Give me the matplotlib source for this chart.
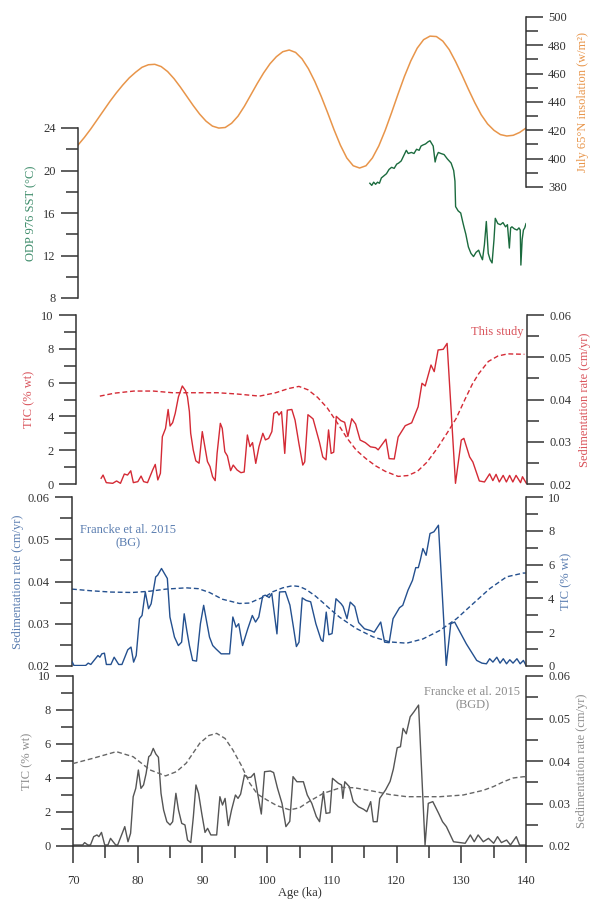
import numpy as np
import matplotlib
matplotlib.use('Agg')
import matplotlib.pyplot as plt
from matplotlib.ticker import MultipleLocator, FormatStrFormatter

plt.rcParams['font.family'] = ['Liberation Serif', 'DejaVu Serif']

# July 65N insolation (w/m2)
ins_age = np.arange(70, 141, 1)
ins_val = [409.6, 415, 421, 427.5, 434, 440.5, 446.5, 452, 457, 461, 464.5, 466.3, 466.6, 465,
           461.5, 456.5, 450.5, 444, 437.5, 431.5, 426.5, 423, 421.6, 422, 425, 430, 437, 445,
           453, 460.5, 467, 472, 475.5, 476.7, 475, 470.5, 463.5, 454.5, 444, 432.5, 420.5,
           409.5, 400.5, 395, 393.4, 395, 400.5, 409, 420, 432.5, 445.5, 458, 469, 478, 484,
           486.5, 486.2, 483, 477, 468.5, 459, 449, 439.5, 431, 424.5, 420, 417, 416, 416.5,
           418.5, 421.6]

# ODP 976 SST (degC)
sst_age = [115.6, 115.9, 116.2, 116.5, 116.8, 117.1, 117.4, 117.8, 118.2, 118.6, 119.0, 119.4,
           119.8, 120.1, 120.5, 120.9, 121.3, 121.6, 122.1, 122.5, 122.9, 123.3, 123.6, 123.9,
           124.3, 124.7, 125.0, 125.2, 125.5, 125.8, 126.0, 126.3, 126.7, 127.2, 127.7, 128.3,
           128.7, 128.9, 129.0, 129.4, 129.8, 130.1, 130.3, 130.6, 131.0, 131.4, 131.8, 132.2,
           132.6, 132.9, 133.2, 133.5, 133.8, 134.1, 134.4, 134.7, 135.0, 135.2, 135.6, 136.0,
           136.4, 136.8, 137.1, 137.4, 137.6, 137.8, 138.2, 138.6, 138.9, 139.1, 139.2, 139.4,
           139.6, 139.8, 140.0]
sst_val = [18.8, 18.6, 18.9, 18.7, 18.9, 18.8, 19.3, 19.5, 19.7, 20.1, 20.3, 20.2, 20.6, 20.7,
           20.9, 21.4, 21.9, 21.6, 21.7, 21.6, 22.0, 21.9, 22.3, 22.4, 22.5, 22.7, 22.8, 22.6,
           22.3, 20.8, 21.3, 21.7, 21.6, 21.5, 21.1, 20.7, 20.0, 19.0, 16.6, 16.2, 16.0, 15.2,
           14.7, 14.0, 12.8, 12.2, 11.9, 12.3, 12.5, 12.0, 11.6, 13.0, 15.2, 12.2, 11.6, 11.3,
           13.5, 15.5, 15.0, 14.9, 15.1, 14.7, 14.9, 12.7, 14.6, 14.7, 14.5, 14.4, 14.6, 14.4,
           11.1, 13.5, 14.4, 14.6, 15.0]

# TIC, this study
red_age = [73.9, 74.2, 74.7, 75.7, 76.3, 76.9, 77.5, 78.0, 78.5, 78.9, 79.6, 80.1, 80.5, 81.1,
           81.9, 82.3, 82.7, 83.1, 83.4, 83.9, 84.3, 84.6, 85.0, 85.4, 85.9, 86.5, 87.0, 87.3,
           87.6, 87.8, 88.2, 88.6, 89.1, 89.6, 90.0, 90.4, 90.8, 91.2, 91.6, 91.9, 92.4, 92.7,
           93.1, 93.5, 94.0, 94.4, 95.0, 95.6, 96.1, 96.6, 97.0, 97.4, 97.9, 98.4, 99.0, 99.4,
           99.9, 100.4, 100.7, 101.2, 101.5, 101.9, 102.4, 102.8, 103.5, 104.0, 104.6, 105.2,
           105.5, 106.0, 106.4, 106.8, 107.8, 108.3, 108.8, 109.2, 109.6, 110.0, 110.4, 111.1,
           111.7, 112.2, 112.8, 113.4, 114.1, 114.9, 115.7, 116.5, 116.9, 118.1, 118.6, 119.4,
           120.0, 121.1, 122.1, 123.1, 123.7, 124.2, 125.1, 125.6, 126.2, 127.0, 127.6, 128.9,
           129.8, 130.2, 131.1, 131.6, 132.6, 133.4, 134.2, 134.7, 135.2, 135.7, 136.3, 136.8,
           137.3, 137.8, 138.3, 139.0, 139.3, 139.9]
red_tic = [0.34, 0.53, 0.08, 0.04, 0.18, 0.04, 0.59, 0.53, 0.78, 0.08, 0.14, 0.47, 0.14, 0.08,
           0.83, 1.16, 0.24, 0.63, 2.80, 3.29, 4.41, 3.43, 3.63, 4.18, 5.16, 5.80, 5.52, 5.16,
           4.28, 3.00, 2.01, 1.37, 1.23, 3.10, 2.21, 1.33, 1.03, 0.43, 0.20, 1.81, 3.59, 3.29,
           1.91, 1.66, 0.79, 1.12, 0.83, 0.67, 0.71, 2.90, 2.21, 2.45, 1.22, 2.21, 3.00, 2.61,
           2.70, 3.10, 4.18, 4.28, 4.08, 4.28, 1.81, 4.37, 4.41, 3.78, 2.39, 1.12, 1.31, 4.10,
           3.98, 3.85, 2.45, 1.60, 1.43, 3.20, 1.81, 1.88, 4.00, 3.75, 3.65, 2.82, 3.86, 3.55,
           2.60, 2.45, 2.20, 2.15, 2.02, 2.65, 1.50, 1.48, 2.78, 3.45, 3.62, 4.57, 5.96, 5.80,
           7.04, 6.65, 7.93, 7.97, 8.32, 0.04, 2.60, 2.70, 1.60, 1.30, 0.18, 0.12, 0.60, 0.20,
           0.57, 0.12, 0.51, 0.12, 0.51, 0.12, 0.51, 0.08, 0.43, 0.04]
red_sed_age = [73.7, 76, 79, 82, 85, 88, 92, 95, 98.5, 101, 103, 104.6, 106, 107.5, 109, 110.5,
               112, 113.5, 115, 116.5, 118, 120, 121.5, 123, 124.5, 126, 127.7, 129, 130.3,
               131.5, 132.5, 134, 135.5, 137, 139.6]
red_sed = [0.0408, 0.0415, 0.0420, 0.0420, 0.0416, 0.0416, 0.0416, 0.0413, 0.0408, 0.0416,
           0.0426, 0.0431, 0.0423, 0.0405, 0.0380, 0.0346, 0.0310, 0.0280, 0.0260, 0.0243,
           0.0230, 0.0218, 0.0220, 0.0230, 0.0252, 0.0283, 0.0323, 0.0355, 0.0398, 0.0436,
           0.0461, 0.0490, 0.0503, 0.0508, 0.0507]

# TIC, Francke et al. 2015 (BG)
blue_age = [70.05, 70.3, 72.1, 72.5, 72.9, 74.0, 74.3, 74.6, 75.0, 75.3, 76.0, 76.5, 77.2, 77.7,
            78.6, 79.1, 79.5, 79.9, 80.4, 80.8, 81.3, 81.8, 82.2, 82.9, 83.2, 83.8, 84.5, 84.7,
            85.1, 85.8, 86.4, 86.9, 87.3, 87.7, 88.1, 88.6, 89.2, 89.8, 90.3, 90.8, 91.2, 91.7,
            92.2, 93.0, 94.3, 94.8, 95.3, 95.7, 96.3, 97.1, 97.8, 98.3, 98.8, 99.4, 99.8, 100.4,
            100.8, 101.6, 102.0, 102.9, 103.6, 104.1, 104.6, 105.0, 105.5, 106.1, 106.8, 107.6,
            108.4, 108.7, 109.2, 109.6, 110.1, 110.7, 111.5, 111.8, 112.4, 112.9, 113.6, 114.2,
            115.1, 116.0, 116.6, 117.6, 118.2, 118.9, 119.5, 120.5, 121.0, 121.8, 122.5, 123.0,
            123.4, 123.7, 124.1, 124.6, 125.2, 125.8, 126.5, 127.7, 128.4, 129.0, 130.1, 130.8,
            131.6, 132.4, 133.2, 133.9, 134.4, 134.9, 135.5, 136.0, 136.5, 137.0, 137.5, 138.0,
            138.6, 139.1, 139.6, 140.0]
blue_tic = [0.23, 0.03, 0.03, 0.17, 0.09, 0.62, 0.52, 0.72, 0.76, 0.09, 0.09, 0.52, 0.09, 0.09,
            0.96, 1.12, 0.23, 0.62, 2.80, 2.99, 4.38, 3.39, 3.68, 5.27, 5.37, 5.77, 5.31, 5.18,
            2.90, 1.71, 1.21, 1.41, 3.09, 2.10, 1.21, 0.33, 0.29, 2.50, 3.59, 2.54, 1.71, 1.21,
            1.01, 0.72, 0.72, 2.90, 2.30, 2.50, 1.21, 2.20, 2.99, 2.60, 2.90, 4.13, 4.19, 4.05,
            4.29, 1.90, 4.38, 4.40, 3.60, 2.40, 1.15, 1.41, 4.03, 3.88, 3.80, 2.50, 1.55, 1.45,
            3.19, 1.85, 1.92, 3.98, 3.68, 3.52, 2.80, 3.78, 3.52, 2.57, 2.20, 2.10, 2.00, 2.60,
            1.41, 1.38, 2.80, 3.45, 3.59, 4.48, 5.07, 5.82, 5.82, 6.26, 6.95, 6.55, 7.84, 7.94,
            8.33, 0.03, 2.50, 2.60, 1.81, 1.31, 0.82, 0.33, 0.17, 0.13, 0.43, 0.23, 0.52, 0.17,
            0.43, 0.13, 0.37, 0.17, 0.43, 0.13, 0.33, 0.03]
blue_sed_age = [70, 73, 76, 79.3, 82, 84.5, 87.6, 89.5, 91.2, 93.2, 95.8, 97.4, 98.4, 100, 101,
                102.5, 104, 105.1, 106.1, 107.5, 108.7, 110, 111.3, 113.8, 116.4, 119, 121.6,
                124.1, 126.7, 129.3, 131.8, 134.4, 137, 139.6, 140]
blue_sed = [0.0382, 0.0378, 0.0375, 0.0374, 0.0377, 0.0382, 0.0385, 0.0383, 0.0374, 0.0358,
            0.0348, 0.0349, 0.0356, 0.0366, 0.0376, 0.0385, 0.0390, 0.0388, 0.0381, 0.0366,
            0.0350, 0.0332, 0.0315, 0.0289, 0.0269, 0.0257, 0.0254, 0.0264, 0.0284, 0.0312,
            0.0347, 0.0383, 0.0411, 0.0420, 0.0420]

# TIC, Francke et al. 2015 (BGD)
gray_age = [70.0, 71.5, 71.8, 72.3, 72.7, 73.2, 73.7, 74.0, 74.4, 74.9, 75.4, 75.8, 76.2, 76.6,
            76.9, 77.7, 78.0, 78.5, 78.9, 79.3, 79.7, 80.1, 80.5, 80.9, 81.3, 81.7, 82.0, 82.4,
            82.8, 83.2, 83.6, 84.0, 84.5, 85.0, 85.4, 85.9, 86.3, 86.8, 87.3, 87.7, 88.2, 88.6,
            89.0, 89.4, 89.9, 90.4, 90.8, 91.3, 92.2, 92.7, 93.1, 93.5, 94.0, 94.5, 95.1, 95.5,
            95.9, 96.5, 97.0, 97.5, 98.0, 98.5, 99.1, 99.6, 100.5, 101.0, 101.6, 102.3, 102.9,
            103.5, 104.0, 104.6, 105.6, 106.2, 106.9, 107.6, 108.1, 108.7, 109.1, 109.7, 110.1,
            111.0, 111.5, 111.7, 112.0, 112.7, 113.3, 114.1, 114.9, 115.4, 116.0, 116.4, 117.0,
            117.4, 118.3, 119.0, 119.5, 120.1, 120.6, 121.0, 121.5, 122.1, 122.7, 123.4, 124.4,
            124.9, 125.6, 126.5, 127.1, 127.7, 128.8, 129.8, 130.6, 131.4, 132.0, 132.6, 133.4,
            134.2, 135.0, 135.6, 136.2, 137.0, 137.6, 138.5, 139.0, 140.0]
gray_tic = [0.06, 0.06, 0.20, 0.06, 0.06, 0.55, 0.65, 0.55, 0.80, 0.06, 0.06, 0.45, 0.25, 0.06,
            0.06, 0.84, 1.14, 0.25, 0.75, 2.90, 3.39, 4.47, 3.39, 3.59, 4.27, 5.25, 5.35, 5.74,
            5.41, 5.22, 3.10, 2.12, 1.43, 1.24, 1.43, 3.10, 2.12, 1.33, 1.24, 0.35, 0.20, 1.73,
            3.59, 3.10, 1.90, 0.80, 1.04, 0.65, 0.65, 2.90, 2.41, 2.80, 1.20, 2.12, 3.00, 2.80,
            3.05, 4.18, 4.02, 4.05, 4.27, 3.15, 1.88, 4.37, 4.41, 4.32, 3.40, 2.50, 1.14, 1.45,
            4.08, 3.78, 3.78, 3.00, 2.51, 1.73, 1.43, 3.20, 1.92, 1.96, 3.98, 3.69, 3.59, 2.80,
            3.78, 3.49, 2.61, 2.31, 2.16, 2.02, 2.61, 1.43, 1.43, 2.80, 3.30, 3.80, 4.52, 5.78,
            5.84, 6.92, 6.60, 7.60, 7.90, 8.29, 0.06, 2.51, 2.61, 1.92, 1.43, 1.14, 0.25, 0.20,
            0.16, 0.65, 0.25, 0.65, 0.25, 0.45, 0.16, 0.55, 0.20, 0.35, 0.06, 0.55, 0.06, 0.06]
gray_sed_age = [70, 73, 76.7, 79.3, 81.9, 84.3, 86, 87.5, 89.6, 91, 92.2, 93.5, 94.7, 96, 97.3,
                98.5, 100, 101.5, 103.5, 105, 106.5, 108.7, 111.5, 113.5, 116.4, 119, 121.6,
                124, 126.7, 130.3, 133.4, 135, 136.5, 138, 139.6, 140]
gray_sed = [0.0394, 0.0406, 0.0422, 0.0410, 0.0379, 0.0365, 0.0375, 0.0395, 0.0442, 0.0460,
            0.0465, 0.0453, 0.0426, 0.0390, 0.0348, 0.0322, 0.0308, 0.0295, 0.0285, 0.0290,
            0.0305, 0.0324, 0.0338, 0.0337, 0.0329, 0.0321, 0.0316, 0.0316, 0.0316, 0.0320,
            0.0331, 0.0340, 0.0351, 0.0360, 0.0363, 0.0363]

c_orange = '#E8954A'
c_green = '#1B6B3E'
c_green_lab = '#3D8C6A'
c_red = '#D42A35'
c_red_lab = '#D9535B'
c_blue = '#24508F'
c_blue_lab = '#5A7DB0'
c_gray = '#555555'
c_gray_lab = '#8C8C8C'
c_axis = '#333333'
dash = (0, (3.5, 2))

W, H = 592, 902
fig = plt.figure(figsize=(W / 100, H / 100), dpi=100)


def box(l, r, t, b):
    return [l / W, 1 - b / H, (r - l) / W, (b - t) / H]


def style(ax, side, lo, hi, major, minor, fmt):
    for s in ['top', 'bottom', 'left', 'right']:
        ax.spines[s].set_visible(s == side)
    ax.spines[side].set_color(c_axis)
    ax.spines[side].set_linewidth(1.1)
    ax.set_facecolor('none')
    ax.set_xlim(70, 140)
    ax.set_ylim(lo, hi)
    if side == 'right':
        ax.yaxis.tick_right()
        ax.yaxis.set_label_position('right')
    else:
        ax.yaxis.tick_left()
    ax.yaxis.set_major_locator(MultipleLocator(major))
    ax.yaxis.set_minor_locator(MultipleLocator(minor))
    ax.yaxis.set_major_formatter(FormatStrFormatter(fmt))
    ax.tick_params(axis='y', which='major', direction='out', length=12, width=1.1,
                   color=c_axis, labelcolor=c_axis, labelsize=9, pad=4)
    ax.tick_params(axis='y', which='minor', direction='out', length=8.5, width=1.1,
                   color=c_axis)
    ax.tick_params(axis='x', which='both', bottom=False, top=False, labelbottom=False)


# top panel: insolation + SST
ax_ins = fig.add_axes(box(78, 526, 17, 187))
ax_sst = fig.add_axes(box(78, 526, 128, 298))
style(ax_sst, 'left', 8, 24, 4, 2, '%d')
style(ax_ins, 'right', 380, 500, 20, 10, '%d')
ax_sst.plot(sst_age, sst_val, color=c_green, lw=1.0)
ax_ins.plot(ins_age, ins_val, color=c_orange, lw=1.1)
ax_sst.set_ylabel('ODP 976 SST (°C)', color=c_green_lab, fontsize=9)
ax_sst.yaxis.set_label_coords(-0.092, 0.5)
ax_ins.set_ylabel('July 65°N insolation (w/m²)', color=c_orange, fontsize=9)
ax_ins.yaxis.set_label_coords(1.114, 0.5)

# panel 2: this study
ax2 = fig.add_axes(box(76, 527, 315, 484))
ax2r = fig.add_axes(box(76, 527, 315, 484))
style(ax2, 'left', 0, 10, 2, 1, '%d')
style(ax2r, 'right', 0.02, 0.06, 0.01, 0.005, '%.2f')
ax2.plot(red_age, red_tic, color=c_red, lw=1.0)
ax2r.plot(red_sed_age, red_sed, color=c_red, lw=1.0, ls=dash)
ax2.set_ylabel('TIC (% wt)', color=c_red_lab, fontsize=9)
ax2.yaxis.set_label_coords(-0.090, 0.5)
ax2r.set_ylabel('Sedimentation rate (cm/yr)', color=c_red_lab, fontsize=9)
ax2r.yaxis.set_label_coords(1.115, 0.5)
ax2.text(135.4, 9.0, 'This study', color=c_red_lab, fontsize=9, ha='center', va='center')

# panel 3: Francke et al. 2015 (BG)
ax3 = fig.add_axes(box(72, 526, 497, 666))
ax3r = fig.add_axes(box(72, 526, 497, 666))
style(ax3, 'left', 0.02, 0.06, 0.01, 0.005, '%.2f')
style(ax3r, 'right', 0, 10, 2, 1, '%d')
ax3.plot(blue_sed_age, blue_sed, color=c_blue, lw=1.0, ls=dash)
ax3r.plot(blue_age, blue_tic, color=c_blue, lw=1.0)
ax3.set_ylabel('Sedimentation rate (cm/yr)', color=c_blue_lab, fontsize=9)
ax3.yaxis.set_label_coords(-0.105, 0.5)
ax3r.set_ylabel('TIC (% wt)', color=c_blue_lab, fontsize=9)
ax3r.yaxis.set_label_coords(1.076, 0.5)
ax3.text(78.7, 0.0506, 'Francke et al. 2015\n(BG)', color=c_blue_lab, fontsize=9,
         ha='center', va='center', linespacing=1.1)

# panel 4: Francke et al. 2015 (BGD)
ax4 = fig.add_axes(box(73, 526, 676, 846))
ax4r = fig.add_axes(box(73, 526, 676, 846))
style(ax4, 'left', 0, 10, 2, 1, '%d')
style(ax4r, 'right', 0.02, 0.06, 0.01, 0.005, '%.2f')
ax4.plot(gray_age, gray_tic, color=c_gray, lw=1.0)
ax4r.plot(gray_sed_age, gray_sed, color='#666666', lw=1.0, ls=dash)
ax4.set_ylabel('TIC (% wt)', color=c_gray_lab, fontsize=9)
ax4.yaxis.set_label_coords(-0.088, 0.5)
ax4r.set_ylabel('Sedimentation rate (cm/yr)', color=c_gray_lab, fontsize=9)
ax4r.yaxis.set_label_coords(1.111, 0.5)
ax4.text(131.7, 8.68, 'Francke et al. 2015\n(BGD)', color=c_gray_lab, fontsize=9,
         ha='center', va='center', linespacing=1.1)

ax4.spines['bottom'].set_visible(True)
ax4.spines['bottom'].set_color(c_axis)
ax4.spines['bottom'].set_linewidth(1.1)
ax4.xaxis.set_major_locator(MultipleLocator(10))
ax4.xaxis.set_minor_locator(MultipleLocator(5))
ax4.tick_params(axis='x', which='major', bottom=True, labelbottom=True, direction='out',
                length=12, width=1.1, color=c_axis, labelcolor=c_axis, labelsize=9, pad=9)
ax4.tick_params(axis='x', which='minor', bottom=True, direction='out', length=8.5,
                width=1.1, color=c_axis)
fig.text(299.5 / W, 1 - 887 / H, 'Age (ka)', color=c_axis, fontsize=9, ha='center', va='top')

fig.savefig('out.png', dpi=100)
